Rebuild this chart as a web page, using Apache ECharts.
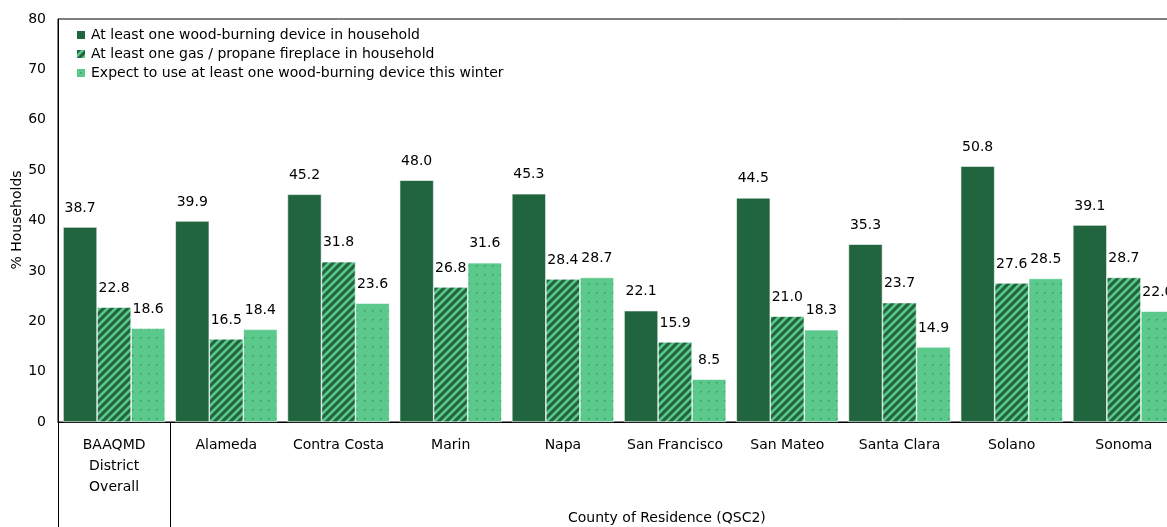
<!DOCTYPE html>
<html>
<head>
<meta charset="utf-8">
<script src="https://cdn.jsdelivr.net/npm/echarts@6/dist/echarts.min.js"></script>
<style>
  html, body { margin: 0; padding: 0; background: #fff; overflow: hidden; }
  #chart { width: 1190px; height: 527px; }
</style>
</head>
<body>
<div id="chart"></div>
<script>
// Household wood-burning / gas fireplace survey by county
const categories = ['BAAQMD\nDistrict\nOverall', 'Alameda', 'Contra Costa', 'Marin', 'Napa',
  'San Francisco', 'San Mateo', 'Santa Clara', 'Solano', 'Sonoma'];
const seriesNames = [
  'At least one wood-burning device in household',
  'At least one gas / propane fireplace in household',
  'Expect to use at least one wood-burning device this winter'
];
const woodDevice = [38.7, 39.9, 45.2, 48.0, 45.3, 22.1, 44.5, 35.3, 50.8, 39.1];
const gasFireplace = [22.8, 16.5, 31.8, 26.8, 28.4, 15.9, 21.0, 23.7, 27.6, 28.7];
const expectUse = [18.6, 18.4, 23.6, 31.6, 28.7, 8.5, 18.3, 14.9, 28.5, 22.0];
const yTicks = { min: 0, max: 80, interval: 10 };
const yTitle = '% Households';
const xTitle = 'County of Residence (QSC2)';

const DARK = '#21653f';
const LIGHT = '#5cc98c';

// Diagonal stripe fill
function stripePattern() {
  const s = 8;
  const c = document.createElement('canvas');
  c.width = s; c.height = s;
  const g = c.getContext('2d');
  g.fillStyle = DARK;
  g.fillRect(0, 0, s, s);
  g.strokeStyle = LIGHT;
  g.lineWidth = 2.6;
  g.beginPath();
  g.moveTo(-1, s + 1); g.lineTo(s + 1, -1);
  g.moveTo(-2, 2); g.lineTo(2, -2);
  g.moveTo(s - 2, s + 2); g.lineTo(s + 2, s - 2);
  g.stroke();
  return { image: c, repeat: 'repeat' };
}

// Sparse dot fill
function dotPattern() {
  const c = document.createElement('canvas');
  c.width = 8; c.height = 9;
  const g = c.getContext('2d');
  g.fillStyle = LIGHT;
  g.fillRect(0, 0, 8, 9);
  g.fillStyle = '#3f9866';
  g.fillRect(4, 4, 1.5, 1.5);
  return { image: c, repeat: 'repeat' };
}

const FONT = 'DejaVu Sans';
const labelCfg = { show: true, position: 'top', distance: 12, color: '#000', fontSize: 14, fontFamily: FONT,
  formatter: p => p.value.toFixed(1) };

const chart = echarts.init(document.getElementById('chart'), null, { renderer: 'canvas' });
chart.setOption({
  animation: false,
  textStyle: { fontFamily: FONT },
  grid: { left: 58, right: 10, top: 19, bottom: 105, outerBoundsMode: 'none',
    show: true, borderColor: '#000', borderWidth: 1 },
  legend: {
    orient: 'vertical', left: 70, top: 23, itemWidth: 10, itemHeight: 10, itemGap: 5,
    textStyle: { fontSize: 14, color: '#000', fontFamily: FONT },
    data: seriesNames.map(n => ({ name: n, icon: 'rect' }))
  },
  xAxis: {
    type: 'category', data: categories,
    axisLine: { lineStyle: { color: '#000', width: 1 } },
    axisTick: { show: true, length: 105, lineStyle: { color: '#000' },
      interval: (i) => i === 0 || i === 1 },
    axisLabel: { color: '#000', fontSize: 14, fontFamily: FONT, margin: 13, lineHeight: 21, interval: 0 }
  },
  yAxis: {
    type: 'value', min: yTicks.min, max: yTicks.max, interval: yTicks.interval,
    axisLine: { show: true, lineStyle: { color: '#000' } },
    axisTick: { show: false },
    splitLine: { show: false },
    axisLabel: { color: '#000', fontSize: 14, fontFamily: FONT, margin: 12 }
  },
  graphic: [
    {
      type: 'text', x: 17, y: 220, rotation: Math.PI / 2,
      style: { text: yTitle, fontSize: 14, fontFamily: FONT, fill: '#000', align: 'center', verticalAlign: 'middle' }
    },
    {
      type: 'text', left: 568, top: 511,
      style: { text: xTitle, fontSize: 14, fontFamily: FONT, fill: '#000' }
    }
  ],
  series: [
    { name: seriesNames[0], type: 'bar', data: woodDevice, barGap: '0%', barCategoryGap: '9%',
      itemStyle: { color: DARK, borderColor: '#fff', borderWidth: 0.6 }, label: labelCfg },
    { name: seriesNames[1], type: 'bar', data: gasFireplace,
      itemStyle: { color: stripePattern(), borderColor: '#fff', borderWidth: 0.6 }, label: labelCfg },
    { name: seriesNames[2], type: 'bar', data: expectUse,
      itemStyle: { color: dotPattern(), borderColor: '#fff', borderWidth: 0.6 }, label: labelCfg }
  ]
});
</script>
</body>
</html>
